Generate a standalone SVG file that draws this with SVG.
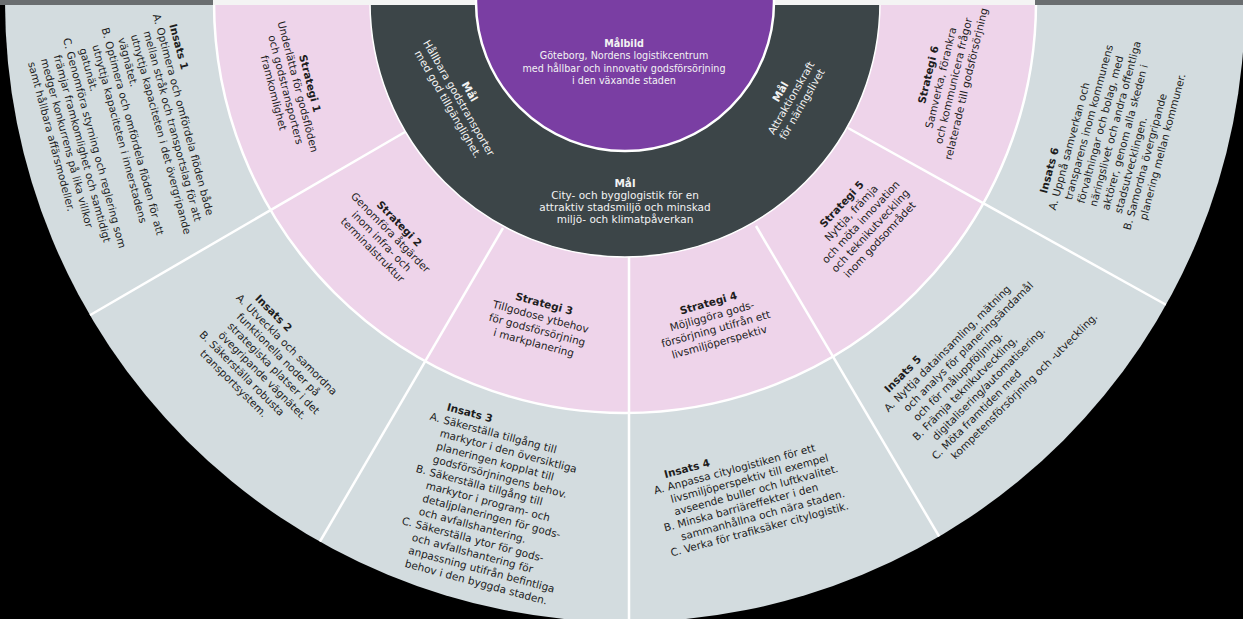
<svg xmlns="http://www.w3.org/2000/svg" width="1243" height="619" viewBox="0 0 1243 619">
  <style>
    .t { font-family: "DejaVu Sans", "Noto Sans", sans-serif; font-size: 10.5px; fill: #1d1d1d; }
    .b { font-weight: bold; }
    .w { fill: #f3f3f3; }
    .m { text-anchor: middle; }
    .v { font-size: 9.6px; }
    .div { stroke: #ffffff; stroke-width: 2.5; fill: none; }
    .edge { fill: none; stroke: #ffffff; }
  </style>
  <defs>
    <clipPath id="disc">
      <circle cx="625" cy="2" r="620"/>
    </clipPath>
  </defs>

  <!-- page -->
  <rect x="0" y="0" width="1243" height="619" fill="#000000"/>

  <!-- rings, outermost first -->
  <g id="rings">
    <circle cx="625" cy="2" r="620" fill="#d3dcdf"/>
    <circle cx="625" cy="2" r="411" fill="#eed4ea"/>
    <circle cx="625" cy="2" r="255" fill="#3c4548"/>
  </g>

  <!-- sector dividers -->
  <g id="connectors" clip-path="url(#disc)">
    <line class="div" x1="405" y1="132" x2="80" y2="321"/>
    <line class="div" x1="503" y1="228" x2="315" y2="550"/>
    <line class="div" x1="629" y1="257" x2="629" y2="625"/>
    <line class="div" x1="756" y1="226" x2="943" y2="543"/>
    <line class="div" x1="848" y1="128" x2="1170" y2="307"/>
  </g>

  <g id="ring-edges">
    <circle class="edge" cx="625" cy="2" r="411" stroke-width="2.5"/>
    <circle class="edge" cx="625" cy="2" r="255" stroke-width="1.5"/>
  </g>

  <!-- top margin of the sheet -->
  <rect x="0" y="0" width="1243" height="5" fill="#f4f4f4"/>
  <rect x="0" y="0" width="213" height="5" fill="#6a6e70"/>
  <rect x="1035" y="0" width="208" height="5" fill="#6a6e70"/>

  <!-- centre: vision -->
  <g id="malbild">
    <circle cx="625" cy="2" r="149" fill="#7a3ea3" stroke="#ffffff" stroke-width="2.5"/>
    <text class="t w m b v" x="624" y="46.5">Målbild</text>
    <text class="t w m v" x="624" y="59">Göteborg, Nordens logistikcentrum</text>
    <text class="t w m v" x="624" y="71.5">med hållbar och innovativ godsförsörjning</text>
    <text class="t w m v" x="624" y="84">i den växande staden</text>
  </g>

  <!-- goals -->
  <g id="mal-1" transform="translate(625 2) rotate(60)">
    <text class="t w m b" x="0" y="183">Mål</text>
    <text class="t w m" x="0" y="195.5">Hållbara godstransporter</text>
    <text class="t w m" x="0" y="208">med god tillgänglighet.</text>
  </g>
  <g id="mal-2">
    <text class="t w m b" x="625" y="186.5">Mål</text>
    <text class="t w m" x="625" y="198.5">City- och bygglogistik för en</text>
    <text class="t w m" x="625" y="210.5">attraktiv stadsmiljö och minskad</text>
    <text class="t w m" x="625" y="222.5">miljö- och klimatpåverkan</text>
  </g>
  <g id="mal-3" transform="translate(625 2) rotate(-60)">
    <text class="t w m b" x="0" y="183">Mål</text>
    <text class="t w m" x="0" y="195.5">Attraktionskraft</text>
    <text class="t w m" x="0" y="208">för näringslivet</text>
  </g>

  <!-- strategies -->
  <g id="strategi-1" transform="translate(625 2) rotate(75.5)">
    <text class="t m b" x="0" y="329">Strategi 1</text>
    <text class="t m" x="0" y="341.5">Underlätta för godsflöden</text>
    <text class="t m" x="0" y="354">och godstransporters</text>
    <text class="t m" x="0" y="366.5">framkomlighet</text>
  </g>
  <g id="strategi-2" transform="translate(625 2) rotate(45.5)">
    <text class="t m b" x="0" y="320">Strategi 2</text>
    <text class="t m" x="0" y="332.5">Genomföra åtgärder</text>
    <text class="t m" x="0" y="345">inom infra- och</text>
    <text class="t m" x="0" y="357.5">terminalstruktur</text>
  </g>
  <g id="strategi-3" transform="translate(625 2) rotate(15)">
    <text class="t m b" x="0" y="316">Strategi 3</text>
    <text class="t m" x="0" y="329.5">Tillgodose ytbehov</text>
    <text class="t m" x="0" y="343">för godsförsörjning</text>
    <text class="t m" x="0" y="356.5">i markplanering</text>
  </g>
  <g id="strategi-4" transform="translate(625 2) rotate(-15.5)">
    <text class="t m b" x="0" y="316">Strategi 4</text>
    <text class="t m" x="0" y="329.5">Möjliggöra gods-</text>
    <text class="t m" x="0" y="343">försörjning utifrån ett</text>
    <text class="t m" x="0" y="356.5">livsmiljöperspektiv</text>
  </g>
  <g id="strategi-5" transform="translate(625 2) rotate(-47)">
    <text class="t m b" x="0" y="300">Strategi 5</text>
    <text class="t m" x="0" y="313">Nyttja, främja</text>
    <text class="t m" x="0" y="326">och möta innovation</text>
    <text class="t m" x="0" y="339">och teknikutveckling</text>
    <text class="t m" x="0" y="352">inom godsområdet</text>
  </g>
  <g id="strategi-6" transform="translate(625 2) rotate(-76.5)">
    <text class="t m b" x="0" y="315.5">Strategi 6</text>
    <text class="t m" x="0" y="328.5">Samverka, förankra</text>
    <text class="t m" x="0" y="341.5">och kommunicera frågor</text>
    <text class="t m" x="0" y="354.5">relaterade till godsförsörjning</text>
  </g>

  <!-- measures -->
  <g id="insats-1" transform="translate(152.8 15) rotate(75)">
    <text class="t b" x="14" y="-13.3">Insats 1</text>
    <text class="t" x="0" y="0">A.</text><text class="t" x="14" y="0">Optimera och omfördela flöden både</text>
    <text class="t" x="14" y="13.3">mellan stråk och transportslag för att</text>
    <text class="t" x="14" y="26.6">utnyttja kapaciteten i det övergripande</text>
    <text class="t" x="14" y="39.9">vägnätet.</text>
    <text class="t" x="0" y="53.2">B.</text><text class="t" x="14" y="53.2">Optimera och omfördela flöden för att</text>
    <text class="t" x="14" y="66.5">utnyttja kapaciteten i innerstadens</text>
    <text class="t" x="14" y="79.8">gatunät.</text>
    <text class="t" x="0" y="93.1">C.</text><text class="t" x="14" y="93.1">Genomföra styrning och reglering som</text>
    <text class="t" x="14" y="106.4">främjar framkomlighet och samtidigt</text>
    <text class="t" x="14" y="119.7">medger konkurrens på lika villkor</text>
    <text class="t" x="14" y="133">samt hållbara affärsmodeller.</text>
  </g>
  <g id="insats-2" transform="translate(235.4 298.4) rotate(45)">
    <text class="t b" x="14" y="-13">Insats 2</text>
    <text class="t" x="0" y="0">A.</text><text class="t" x="14" y="0">Utveckla och samordna</text>
    <text class="t" x="14" y="13">funktionella noder på</text>
    <text class="t" x="14" y="26">strategiska platser i det</text>
    <text class="t" x="14" y="39">övegripande vägnätet.</text>
    <text class="t" x="0" y="52">B.</text><text class="t" x="14" y="52">Säkerställa robusta</text>
    <text class="t" x="14" y="65">transportsystem.</text>
  </g>
  <g id="insats-3" transform="translate(429.2 419.6) rotate(15)">
    <text class="t b" x="14" y="-13.5">Insats 3</text>
    <text class="t" x="0" y="0">A.</text><text class="t" x="14" y="0">Säkerställa tillgång till</text>
    <text class="t" x="14" y="13.5">markytor i den översiktliga</text>
    <text class="t" x="14" y="27">planeringen kopplat till</text>
    <text class="t" x="14" y="40.5">godsförsörjningens behov.</text>
    <text class="t" x="0" y="54">B.</text><text class="t" x="14" y="54">Säkerställa tillgång till</text>
    <text class="t" x="14" y="67.5">markytor i program- och</text>
    <text class="t" x="14" y="81">detaljplaneringen för gods-</text>
    <text class="t" x="14" y="94.5">och avfallshantering.</text>
    <text class="t" x="0" y="108">C.</text><text class="t" x="14" y="108">Säkerställa ytor för gods-</text>
    <text class="t" x="14" y="121.5">och avfallshantering för</text>
    <text class="t" x="14" y="135">anpassning utifrån befintliga</text>
    <text class="t" x="14" y="148.5">behov i den byggda staden.</text>
  </g>
  <g id="insats-4" transform="translate(655 494.2) rotate(-15)">
    <text class="t b" x="14" y="-12.9">Insats 4</text>
    <text class="t" x="0" y="0">A.</text><text class="t" x="14" y="0">Anpassa citylogistiken för ett</text>
    <text class="t" x="14" y="12.9">livsmiljöperspektiv till exempel</text>
    <text class="t" x="14" y="25.8">avseende buller och luftkvalitet.</text>
    <text class="t" x="0" y="38.7">B.</text><text class="t" x="14" y="38.7">Minska barriäreffekter i den</text>
    <text class="t" x="14" y="51.6">sammanhållna och nära staden.</text>
    <text class="t" x="0" y="64.5">C.</text><text class="t" x="14" y="64.5">Verka för trafiksäker citylogistik.</text>
  </g>
  <g id="insats-5" transform="translate(888.4 412.6) rotate(-45)">
    <text class="t b" x="14" y="-13.5">Insats 5</text>
    <text class="t" x="0" y="0">A.</text><text class="t" x="14" y="0">Nyttja datainsamling, mätning</text>
    <text class="t" x="14" y="13.5">och analys för planeringsändamål</text>
    <text class="t" x="14" y="27">och för måluppföljning.</text>
    <text class="t" x="0" y="40.5">B.</text><text class="t" x="14" y="40.5">Främja teknikutveckling,</text>
    <text class="t" x="14" y="54">digitalisering/automatisering.</text>
    <text class="t" x="0" y="67.5">C.</text><text class="t" x="14" y="67.5">Möta framtiden med</text>
    <text class="t" x="14" y="81">kompetensförsörjning och -utveckling.</text>
  </g>
  <g id="insats-6" transform="translate(1055.6 210.8) rotate(-75)">
    <text class="t b" x="14" y="-12.9">Insats 6</text>
    <text class="t" x="0" y="0">A.</text><text class="t" x="14" y="0">Uppnå samverkan och</text>
    <text class="t" x="14" y="12.9">transparens inom kommunens</text>
    <text class="t" x="14" y="25.8">förvaltningar och bolag, med</text>
    <text class="t" x="14" y="38.7">näringslivet och andra offentliga</text>
    <text class="t" x="14" y="51.6">aktörer, genom alla skeden i</text>
    <text class="t" x="14" y="64.5">stadsutvecklingen.</text>
    <text class="t" x="0" y="77.4">B.</text><text class="t" x="14" y="77.4">Samordna övergripande</text>
    <text class="t" x="14" y="90.3">planering mellan kommuner.</text>
  </g>
</svg>
